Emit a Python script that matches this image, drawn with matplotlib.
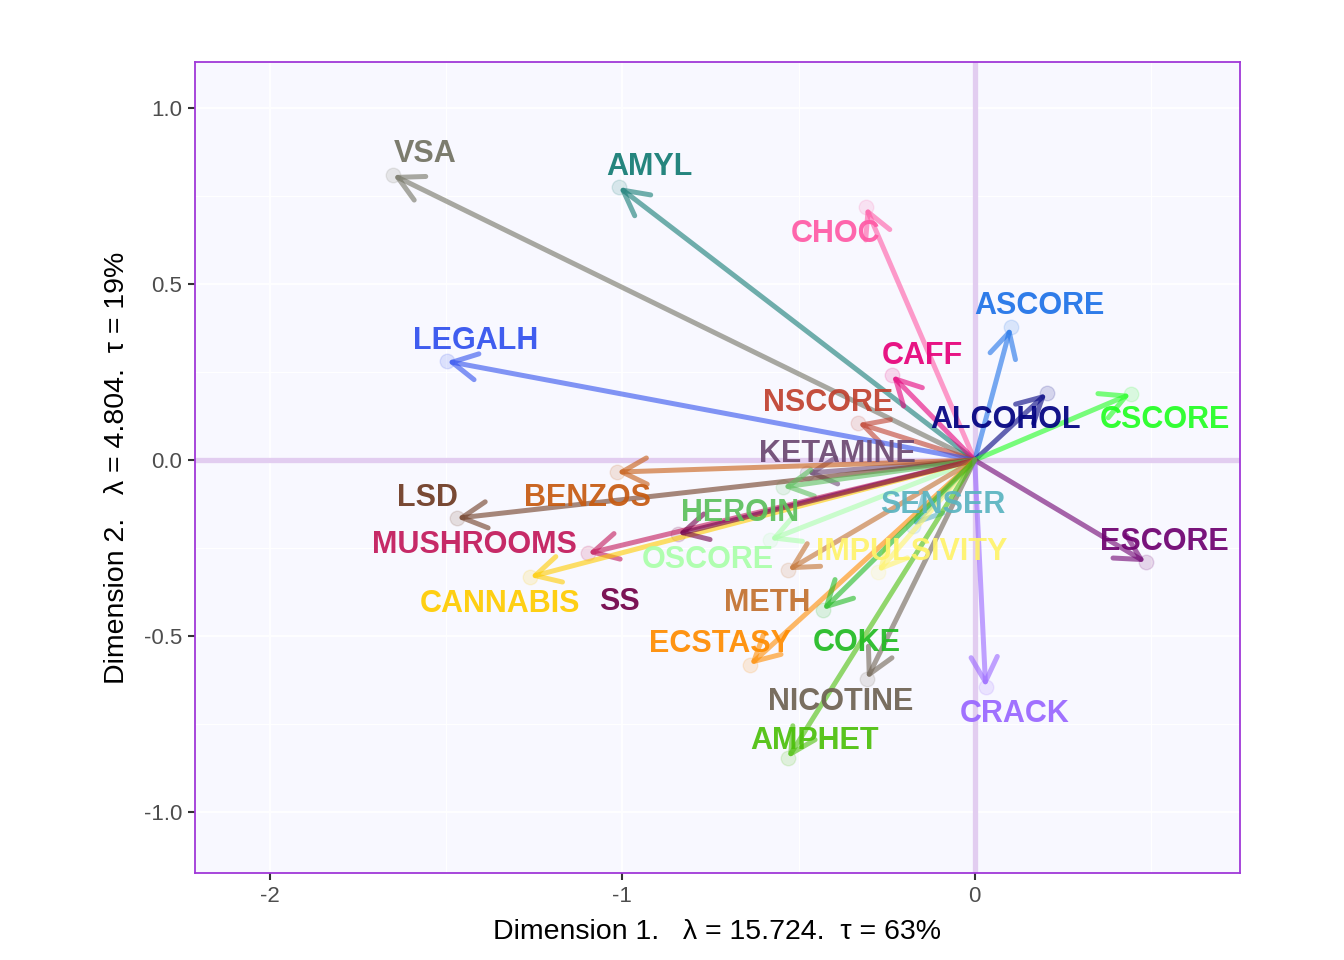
import matplotlib
matplotlib.use("Agg")
import matplotlib.pyplot as plt
import numpy as np

plt.rcParams['font.family'] = ['Liberation Sans', 'DejaVu Sans']
plt.rcParams['axes.unicode_minus'] = False

# variable names and their loadings on the two dimensions
variables = ['VSA', 'AMYL', 'CHOC', 'ASCORE', 'CAFF', 'ALCOHOL', 'CSCORE', 'NSCORE',
             'LEGALH', 'KETAMINE', 'BENZOS', 'LSD', 'HEROIN', 'SENSER', 'MUSHROOMS',
             'OSCORE', 'IMPULSIVITY', 'ESCORE', 'CANNABIS', 'SS', 'METH', 'ECSTASY',
             'COKE', 'NICOTINE', 'CRACK', 'AMPHET']
dim1 = [-1.651, -1.010, -0.309, 0.102, -0.235, 0.204, 0.443, -0.332,
        -1.498, -0.477, -1.016, -1.470, -0.545, -0.176, -1.098,
        -0.582, -0.275, 0.485, -1.262, -0.843, -0.530, -0.638,
        -0.431, -0.306, 0.031, -0.530]
dim2 = [0.810, 0.776, 0.719, 0.378, 0.241, 0.190, 0.188, 0.105,
        0.281, -0.037, -0.034, -0.165, -0.077, -0.187, -0.265,
        -0.227, -0.318, -0.290, -0.332, -0.210, -0.313, -0.582,
        -0.426, -0.622, -0.645, -0.847]

colors = ['#727262', '#137b73', '#ff5aa5', '#1e72e8', '#e6007a', '#000080', '#22ff22', '#c0402e',
          '#3050ee', '#6c4872', '#c65a10', '#6e3a22', '#5cc05c', '#5ab4c0', '#c2185a',
          '#aaffaa', '#fff36a', '#6e0070', '#ffcc00', '#720048', '#c2702e', '#ff8c00',
          '#22bb22', '#6e6252', '#9966ff', '#4cc00a']

# label offsets from arrow tips, in pixels (repel-like placement)
label_offsets = [(32, 23), (31, 22), (-30, -25), (29, 23), (30, 21), (-41, -25), (34, -24), (-30, 22),
                 (29, 22), (31, 21), (-29, -24), (-29, 22), (-43, -24), (30, 23), (-113, 10),
                 (-62, -18), (34, 22), (19, 22), (-30, -25), (-58, -66), (-21, -31), (-30, 23),
                 (34, -31), (-26, -21), (29, -25), (27, 19)]

fig = plt.figure(figsize=(13.44, 9.6), dpi=100)
ax = fig.add_axes([0.145, 0.0906, 0.7774, 0.8448])
ax.set_facecolor('#f8f8ff')

ax.set_xlim(-2.213, 0.752)
ax.set_ylim(-1.173, 1.131)

# grid
ax.set_xticks([-2, -1, 0])
ax.set_yticks([-1.0, -0.5, 0.0, 0.5, 1.0])
ax.set_xticks([-1.5, -0.5, 0.5], minor=True)
ax.set_yticks([-0.75, -0.25, 0.25, 0.75], minor=True)
ax.grid(which='major', color='white', lw=1.3)
ax.grid(which='minor', color='white', lw=0.8)
ax.set_axisbelow(True)
ax.tick_params(which='minor', length=0)
ax.tick_params(which='major', length=5, width=1.5, color='#333333',
               labelsize=16, labelcolor='#4d4d4d', pad=4)
ax.set_yticklabels(['-1.0', '-0.5', '0.0', '0.5', '1.0'])

for s in ax.spines.values():
    s.set_color('#a038d8')
    s.set_linewidth(1.3)

# zero lines
ax.axhline(0, color='#e2cdf0', lw=3.8, zorder=1)
ax.axvline(0, color='#e2cdf0', lw=3.8, zorder=1)

for name, x, y, c in zip(variables, dim1, dim2, colors):
    ax.annotate('', xy=(x, y), xytext=(0, 0),
                arrowprops=dict(arrowstyle='->,head_length=0.85,head_width=0.45',
                                mutation_scale=21, lw=3.6, color=c, alpha=0.6,
                                shrinkA=0, shrinkB=0),
                zorder=3)
    ax.scatter([x], [y], s=110, color=c, alpha=0.14, edgecolors=c, linewidths=1.0, zorder=2)

for name, x, y, c, (dx, dy) in zip(variables, dim1, dim2, colors, label_offsets):
    ax.annotate(name, xy=(x, y), xytext=(dx, dy - 2), textcoords='offset pixels',
                ha='center', va='center', fontsize=22, fontweight='bold',
                color=c, alpha=0.92, zorder=5)

ax.set_xlabel('Dimension 1.   λ = 15.724.  τ = 63%', fontsize=20.5, labelpad=9)
ax.set_ylabel('Dimension 2.   λ = 4.804.  τ = 19%', fontsize=20.5, labelpad=10)

fig.savefig('out.png', dpi=100)
